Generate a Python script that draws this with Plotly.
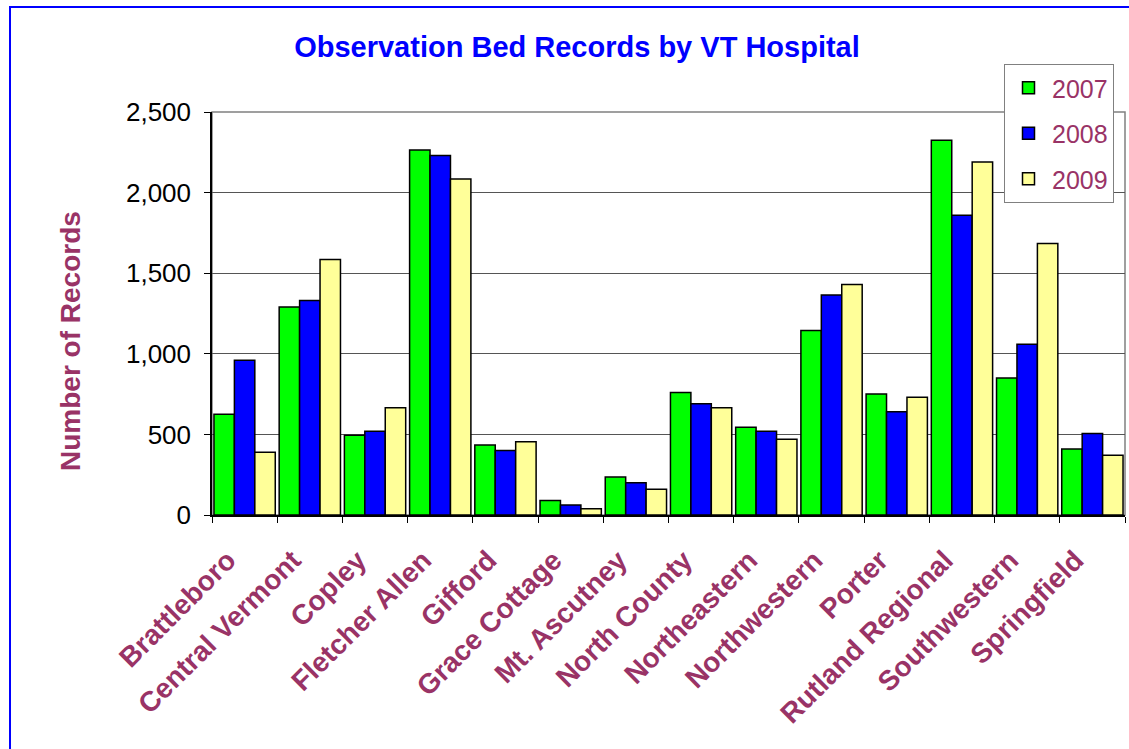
import plotly.graph_objects as go

hospitals = ["Brattleboro", "Central Vermont", "Copley", "Fletcher Allen", "Gifford",
             "Grace Cottage", "Mt. Ascutney", "North County", "Northeastern",
             "Northwestern", "Porter", "Rutland Regional", "Southwestern", "Springfield"]
years = ["2007", "2008", "2009"]
rec_2007 = [625, 1290, 495, 2265, 435, 90, 235, 760, 545, 1145, 750, 2325, 850, 410]
rec_2008 = [960, 1330, 520, 2230, 400, 62, 200, 690, 520, 1365, 640, 1860, 1060, 505]
rec_2009 = [390, 1585, 665, 2085, 455, 38, 160, 665, 470, 1430, 730, 2190, 1685, 370]
y_ticks = [0, 500, 1000, 1500, 2000, 2500]

colors = ["#00FF00", "#0000FF", "#FFFF99"]
series = [rec_2007, rec_2008, rec_2009]

W, H = 1129, 749
L, R, T, B = 212, 4, 112, 234
pw = W - L - R
ph = H - T - B

def px_x(p):
    return (p - L) / pw

def px_y(p):
    return (H - B - p) / ph

FONT = "Arial, Liberation Sans, sans-serif"
PURPLE = "#993366"

fig = go.Figure()
for name, vals, col in zip(years, series, colors):
    fig.add_trace(go.Bar(
        x=hospitals, y=vals, name=name, legendgroup=name,
        marker=dict(color=col, line=dict(color="black", width=1.5)),
    ))

fig.update_layout(
    width=W, height=H,
    margin=dict(l=L, r=R, t=T, b=B, autoexpand=False),
    paper_bgcolor="white", plot_bgcolor="white",
    barmode="group", bargap=0.06, bargroupgap=0,
    font=dict(family=FONT, color="black"),
    title=dict(text="<b>Observation Bed Records by VT Hospital</b>",
               font=dict(size=29, color="#0000FF", family=FONT),
               x=577 / W, xref="container", xanchor="center",
               y=1 - 47 / H, yref="container", yanchor="middle"),
    legend=dict(x=px_x(1004), y=px_y(64), xanchor="left", yanchor="top",
                bgcolor="white", bordercolor="#808080", borderwidth=1,
                font=dict(size=25, color=PURPLE, family=FONT),
                tracegroupgap=10, entrywidth=110, itemwidth=37),
    showlegend=True,
)
fig.update_yaxes(range=[0, 2500], tickvals=y_ticks, tickformat=",",
                 showgrid=True, gridcolor="#555555", gridwidth=1,
                 showline=True, linecolor="black", linewidth=1.5,
                 ticks="outside", ticklen=6, tickcolor="black",
                 tickfont=dict(size=26, color="black", family=FONT),
                 ticklabelstandoff=8, zeroline=False)
fig.update_xaxes(type="category", tickson="boundaries", ticks="outside", ticklen=6,
                 tickcolor="black", showline=True, linecolor="black", linewidth=1.5,
                 tickangle=-45,
                 tickfont=dict(size=28, color=PURPLE, family=FONT, weight="bold"),
                 ticklabelstandoff=16, ticklabelshift=-17)

fig.add_annotation(text="<b>Number of Records</b>", xref="paper", yref="paper",
                   x=px_x(70), y=px_y(341), textangle=-90, showarrow=False,
                   xanchor="center", yanchor="middle",
                   font=dict(size=28, color=PURPLE, family=FONT))

# plot area border
fig.add_shape(type="rect", xref="paper", yref="paper", x0=0, x1=1, y0=0, y1=1,
              line=dict(color="#808080", width=1.5), layer="below")
# chart frame
fig.add_shape(type="rect", xref="paper", yref="paper",
              x0=px_x(10), x1=px_x(1140), y0=px_y(760), y1=px_y(7),
              line=dict(color="#0000FF", width=2))

fig.write_html("out.html", config={"displayModeBar": False},
               post_script="document.body.style.margin='0';")
